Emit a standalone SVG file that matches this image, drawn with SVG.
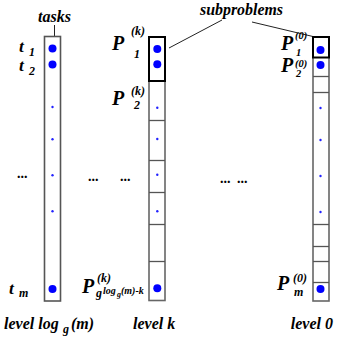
<svg xmlns="http://www.w3.org/2000/svg" width="339" height="341" viewBox="0 0 339 341">
<style>
.t{font-family:"Liberation Serif","Times New Roman",serif;font-weight:bold;font-style:italic;fill:#000}
.big{font-size:20px}
.tt{font-size:17.5px}
.sm{font-size:12px}
.ss{font-size:10.5px}
.xs{font-size:10px}
.lab{font-size:16px}
.dots{font-family:"Liberation Serif",serif;font-weight:bold;font-size:14px}
.col{fill:#fff;stroke:#666;stroke-width:1.6}
.div{stroke:#555;stroke-width:1.3}
.thick{fill:none;stroke:#000;stroke-width:2}
.bd{fill:#0000ff}
.sd{fill:#2222ff}
.ln{stroke:#222;stroke-width:1;fill:none}
</style>
<rect width="339" height="341" fill="#fff"/>
<g id="connectors">
<line class="ln" x1="54.5" y1="25" x2="54.5" y2="40"/>
<line class="ln" x1="222" y1="20" x2="169" y2="48"/>
<line class="ln" x1="252" y1="22" x2="315" y2="37"/>
</g>
<g id="tasks-column">
<rect class="col" x="44.5" y="36.5" width="16" height="264.5" style="stroke:#555"/>
<circle class="bd" cx="52.5" cy="48.5" r="4"/>
<circle class="bd" cx="52.5" cy="64.5" r="4"/>
<circle class="sd" cx="52.5" cy="107" r="1.2"/>
<circle class="sd" cx="52.5" cy="139.3" r="1.2"/>
<circle class="sd" cx="52.5" cy="175.3" r="1.2"/>
<circle class="sd" cx="52.5" cy="211.3" r="1.2"/>
<circle class="bd" cx="52.5" cy="289" r="4"/>
</g>
<g id="level-k-column">
<rect class="col" x="149" y="37" width="16" height="263.5"/>
<line class="div" x1="149" y1="120.5" x2="165" y2="120.5"/>
<line class="div" x1="149" y1="160.5" x2="165" y2="160.5"/>
<line class="div" x1="149" y1="192.5" x2="165" y2="192.5"/>
<line class="div" x1="149" y1="224.5" x2="165" y2="224.5"/>
<line class="div" x1="149" y1="261.5" x2="165" y2="261.5"/>
<rect class="thick" x="149" y="37" width="16" height="44"/>
<circle class="bd" cx="157.3" cy="49" r="4"/>
<circle class="bd" cx="157.3" cy="64.3" r="4"/>
<circle class="sd" cx="157.3" cy="107.7" r="1.2"/>
<circle class="sd" cx="157.3" cy="139" r="1.2"/>
<circle class="sd" cx="157.3" cy="174.7" r="1.2"/>
<circle class="sd" cx="157.3" cy="211.3" r="1.2"/>
<circle class="bd" cx="157.3" cy="288.3" r="4"/>
</g>
<g id="level-0-column">
<rect class="col" x="313" y="37" width="16" height="264"/>
<line class="div" x1="313" y1="76.5" x2="329" y2="76.5"/>
<line class="div" x1="313" y1="92.5" x2="329" y2="92.5"/>
<line class="div" x1="313" y1="224.5" x2="329" y2="224.5"/>
<line class="div" x1="313" y1="246.5" x2="329" y2="246.5"/>
<line class="div" x1="313" y1="261.5" x2="329" y2="261.5"/>
<line class="div" x1="313" y1="282.5" x2="329" y2="282.5"/>
<rect class="thick" x="313" y="37" width="16" height="20.5"/>
<circle class="bd" cx="320.5" cy="50" r="4"/>
<circle class="bd" cx="320.5" cy="65" r="4"/>
<circle class="sd" cx="320.5" cy="108" r="1.2"/>
<circle class="sd" cx="320.5" cy="140" r="1.2"/>
<circle class="sd" cx="320.5" cy="176" r="1.2"/>
<circle class="sd" cx="320.5" cy="212" r="1.2"/>
<circle class="bd" cx="320.5" cy="289" r="4"/>
</g>
<g id="labels">
<text class="t" x="38" y="21.5" font-size="16" textLength="33" lengthAdjust="spacingAndGlyphs">tasks</text>
<text class="t" x="200" y="15" font-size="16" textLength="83" lengthAdjust="spacingAndGlyphs">subproblems</text>
<text class="t tt" x="19" y="51.5">t</text><text class="t sm" x="29" y="56" font-style="normal">1</text>
<text class="t tt" x="19" y="70.5">t</text><text class="t sm" x="29" y="74.5" font-style="normal">2</text>
<text class="t tt" x="9" y="294">t</text><text class="t sm" x="19" y="297">m</text>
<text class="t big" x="112" y="50">P</text><text class="t sm" x="131" y="35">(k)</text><text class="t sm" x="134" y="58" font-style="normal">1</text>
<text class="t big" x="112" y="105">P</text><text class="t sm" x="131" y="95">(k)</text><text class="t sm" x="134" y="109" font-style="normal">2</text>
<text class="t big" x="82" y="293">P</text><text class="t sm" x="97" y="281.5">(k)</text><text class="t sm" x="96" y="297">g</text><text class="t xs" x="103" y="294">log</text><text class="t" font-size="8" x="117" y="297">g</text><text class="t xs" x="121" y="294">(m)-k</text>
<text class="t big" x="281" y="50">P</text><text class="t ss" x="295" y="39" font-style="normal">(0)</text><text class="t ss" x="296" y="56" font-style="normal">1</text>
<text class="t big" x="281" y="72">P</text><text class="t ss" x="295" y="66.5" font-style="normal">(0)</text><text class="t ss" x="296" y="77" font-style="normal">2</text>
<text class="t big" x="277" y="290">P</text><text class="t sm" x="293" y="282" font-style="normal">(0)</text><text class="t sm" x="294" y="296">m</text>
<text class="t lab" x="4" y="329">level log</text><text class="t sm" x="63" y="333">g</text><text class="t lab" x="71" y="329">(m)</text>
<text class="t lab" x="133" y="329">level k</text>
<text class="t lab" x="333" y="329" text-anchor="end">level 0</text>
<text class="dots" x="17" y="178">...</text>
<text class="dots" x="88" y="181">...</text>
<text class="dots" x="120" y="181">...</text>
<text class="dots" x="220" y="183">...</text>
<text class="dots" x="237" y="183">...</text>
</g>
</svg>
